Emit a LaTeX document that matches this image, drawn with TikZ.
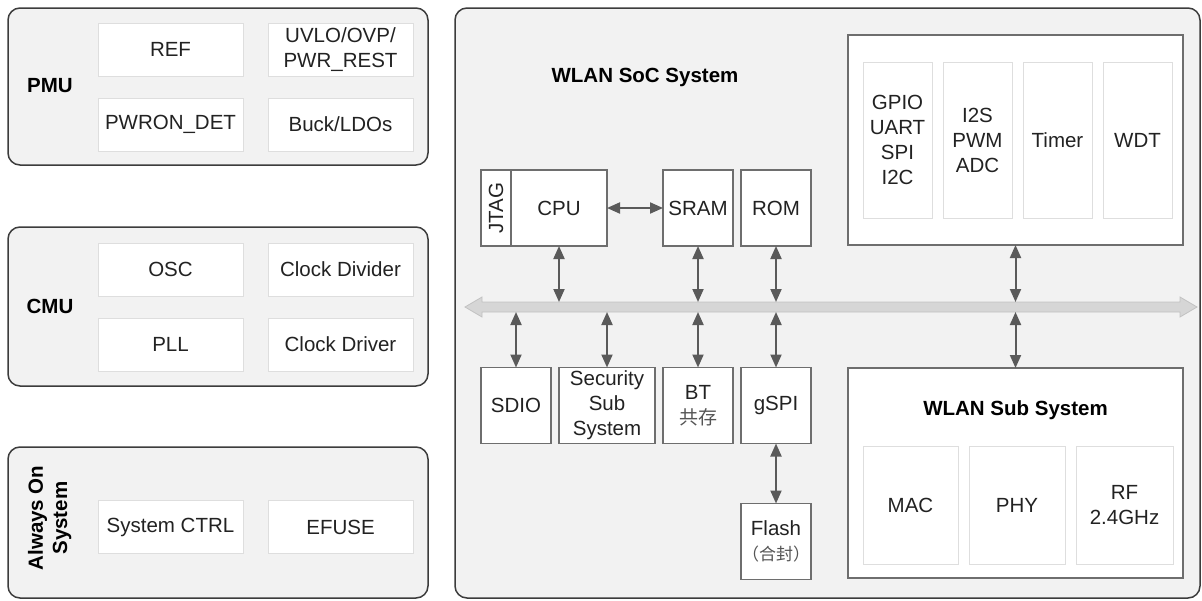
\documentclass[tikz,border=0pt]{standalone}
\usepackage{fontspec}
\usepackage{graphicx}
\setmainfont{Liberation Sans}
\newfontfamily\cjk{Noto Sans CJK SC}
\usetikzlibrary{arrows.meta,positioning,calc}

\definecolor{panelgray}{HTML}{F2F2F2}
\definecolor{edgedark}{HTML}{3C3C3C}
\definecolor{boxedge}{HTML}{6E6E6E}
\definecolor{softedge}{HTML}{DEDEDE}
\definecolor{arrowgray}{HTML}{5A5A5A}
\definecolor{busfill}{HTML}{D6D6D6}
\definecolor{busedge}{HTML}{C2C2C2}
\definecolor{inkgray}{HTML}{222222}
\definecolor{cjkgray}{HTML}{555555}

\begin{document}
\begin{tikzpicture}[x=1pt, y=-1pt, node distance=8pt, font=\fontsize{20.5}{25}\selectfont, text=inkgray]
  \tikzstyle{panel} = [draw=edgedark, line width=1.5pt, fill=panelgray, rounded corners=12pt, inner sep=0pt]
  \tikzstyle{cell} = [draw=softedge, line width=1pt, fill=white, minimum width=145pt, minimum height=53pt, inner sep=0pt, align=center]
  \tikzstyle{block} = [draw=boxedge, line width=1.5pt, fill=white, minimum width=70pt, minimum height=76pt, inner sep=0pt, outer sep=0pt, align=center]
  \tikzstyle{group} = [draw=boxedge, line width=1.5pt, fill=white, minimum width=335pt, minimum height=210pt, inner sep=0pt, outer sep=0pt]
  \tikzstyle{slot} = [draw=softedge, line width=1pt, fill=white, inner sep=0pt, align=center]
  \tikzstyle{title} = [font=\fontsize{20.5}{25}\selectfont\bfseries, text=black]
  \tikzstyle{link} = [arrowgray, line width=2pt, {Triangle[width=11pt,length=13pt]}-{Triangle[width=11pt,length=13pt]}]
  \newcommand{\zh}[2][19]{{\cjk\fontsize{#1}{25}\selectfont\color{cjkgray}#2}}

  \useasboundingbox (0,0) rectangle (1202,600);

  % PMU
  \node[panel, minimum width=420pt, minimum height=157pt] (pmu) at (218,86.5) {};
  \node[title] (pmulabel) at (50,86) {PMU};
  \node[cell] (ref) at (170.5,49.5) {REF};
  \node[cell, right=24pt of ref] (uvlo) {UVLO/OVP/\\PWR\_REST};
  \node[cell, below=21pt of ref] (pwron) {PWRON\_DET\strut};
  \node[cell, right=24pt of pwron] (buck) {Buck/LDOs};

  % CMU
  \node[panel, minimum width=420pt, minimum height=159pt] (cmu) at (218,306.5) {};
  \node[title] (cmulabel) at (50,306) {CMU};
  \node[cell] (osc) at (170.5,269.5) {OSC};
  \node[cell, right=24pt of osc] (clkdiv) {Clock Divider};
  \node[cell, below=21pt of osc] (pll) {PLL};
  \node[cell, right=24pt of pll] (clkdrv) {Clock Driver};

  % always on
  \node[panel, minimum width=420pt, minimum height=151pt] (aon) at (218,522.5) {};
  \node[title, align=center] (aonlabel) at (50,518) {\rotatebox{90}{\begin{tabular}{@{}c@{}}Always On\\[-1pt]System\end{tabular}}};
  \node[cell] (sysctrl) at (170.5,527) {System CTRL};
  \node[cell, right=24pt of sysctrl] (efuse) {EFUSE};

  % WLAN SoC
  \node[panel, minimum width=745pt, minimum height=590pt] (soc) at (827.5,303) {};
  \node[title] (soctitle) at (645,77) {WLAN SoC System};

  \node[block, minimum width=96pt] (cpu) at (559,208) {CPU};
  \node[block, minimum width=30pt, anchor=east] (jtag) at (cpu.west) {\rotatebox{90}{JTAG}};
  \node[block] (sram) at (698,208) {SRAM};
  \node[block, right=of sram] (rom) {ROM};

  \node[group] (periph) at (1015.5,140) {};
  \node[slot, minimum width=69pt, minimum height=156pt] (gpio) at (897.5,140) {GPIO\\UART\\SPI\\I2C};
  \node[slot, minimum width=69pt, minimum height=156pt, right=10pt of gpio] (i2s) {I2S\\PWM\\ADC};
  \node[slot, minimum width=69pt, minimum height=156pt, right=10pt of i2s] (timer) {Timer};
  \node[slot, minimum width=69pt, minimum height=156pt, right=10pt of timer] (wdt) {WDT};

  % bus
  \coordinate (busl) at (465,307);
  \coordinate (busr) at (1197,307);
  \coordinate (bustop) at (0,302);
  \coordinate (busbot) at (0,312);
  \filldraw[fill=busfill, draw=busedge, line width=0.8pt]
    (busl) -- ++(17,-10) -- ++(0,5) -- ($(busr)+(-17,-5)$) -- ++(0,-5) -- (busr)
    -- ++(-17,10) -- ++(0,-5) -- ($(busl)+(17,5)$) -- ++(0,5) -- cycle;

  \node[block] (sdio) at (516,405.5) {SDIO};
  \node[block, minimum width=96pt, right=of sdio] (secu) {Security\\Sub\\System};
  \node[block, right=of secu] (bt) {BT\\\zh{共存}};
  \node[block, right=of bt] (gspi) {gSPI};
  \node[block, below=60pt of gspi] (flash) {Flash\\\zh[17]{（合封）}};

  \node[group] (wlan) at (1015.5,473) {};
  \node[title] (wlantitle) at (1015.5,410) {WLAN Sub System};
  \node[slot, minimum width=95pt, minimum height=118pt] (mac) at (910.5,505) {MAC};
  \node[slot, minimum width=96pt, minimum height=118pt, right=10pt of mac] (phy) {PHY};
  \node[slot, minimum width=97pt, minimum height=118pt, right=10pt of phy] (rf) {RF\\2.4GHz};

  % links
  \draw[link] (cpu) -- (sram);
  \foreach \b in {cpu,sram,rom,periph}
    \draw[link] (\b.south) -- (\b.south |- bustop);
  \foreach \b in {sdio,secu,bt,gspi,wlan}
    \draw[link] (\b.north) -- (\b.north |- busbot);
  \draw[link] (gspi) -- (flash);
\end{tikzpicture}
\end{document}
